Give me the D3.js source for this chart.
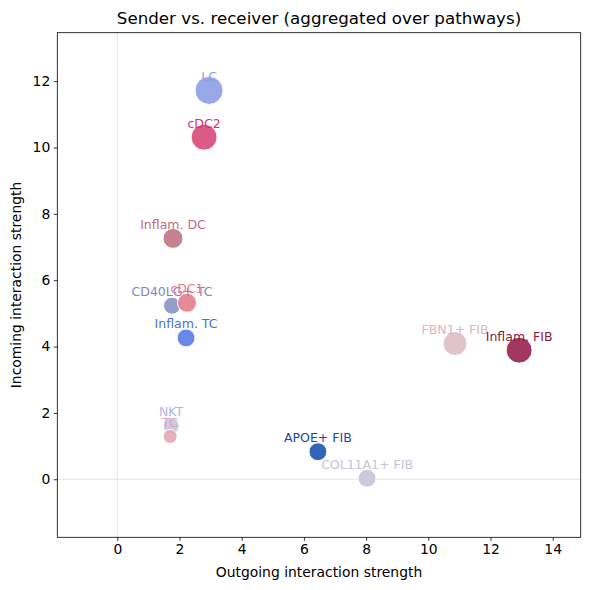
<!DOCTYPE html>
<html><head><meta charset="utf-8">
<script src="https://cdn.jsdelivr.net/npm/d3@7"></script>
<style>body{margin:0;background:#fff}svg{display:block;font-family:"DejaVu Sans",sans-serif}</style>
</head><body><svg id="c" width="590" height="590"></svg>
<script>
const cellTypes = ["LC","cDC2","Inflam. DC","CD40LG+ TC","cDC1","Inflam. TC","NKT","TC","APOE+ FIB","COL11A1+ FIB","FBN1+ FIB","Inflam. FIB"];
const outgoing = [2.95,2.79,1.79,1.76,2.24,2.21,1.73,1.70,6.45,8.03,10.86,12.92];
const incoming = [11.72,10.31,7.26,5.23,5.32,4.26,1.61,1.29,0.83,0.03,4.09,3.89];
const cellCounts = [1000,860,510,370,460,410,330,250,410,410,735,860];
const pointColors = ["#8e9fe6","#d94d7b","#c07888","#8c95c4","#e3808f","#5c7fe6","#c4c6e6","#e4aab6","#2357b4","#c4c7da","#dcbfc5","#9a2656"];
const labelColors = ["#8e9fe6","#d6336b","#c06a80","#7f86bb","#e57a8e","#4a6ee0","#b0b4de","#e4a6b2","#1a48a6","#c2c4d8","#dbb6be","#86163f"];
const xTicks = [0,2,4,6,8,10,12,14];
const yTicks = [0,2,4,6,8,10,12];
const titleText = "Sender vs. receiver (aggregated over pathways)";
const xLabel = "Outgoing interaction strength";
const yLabel = "Incoming interaction strength";

const svg = d3.select("#c");
const m = {l:57.3, t:32.7, r:9.3, b:52.7};
const W = 590, H = 590;
const x = d3.scaleLinear().domain([-1.93,14.9]).range([m.l, W-m.r]);
const y = d3.scaleLinear().domain([-1.75,13.46]).range([H-m.b, m.t]);
const rs = d3.scaleSqrt().domain([0, d3.max(cellCounts)]).range([0, 14]);

// reference lines
svg.append("line").attr("x1",x(0)).attr("x2",x(0)).attr("y1",m.t).attr("y2",H-m.b).attr("stroke","#dcdcdc").attr("stroke-width",0.8);
svg.append("line").attr("x1",m.l).attr("x2",W-m.r).attr("y1",y(0)).attr("y2",y(0)).attr("stroke","#dcdcdc").attr("stroke-width",0.8);

const data = cellTypes.map((c,i)=>({c, x:outgoing[i], y:incoming[i], n:cellCounts[i], pc:pointColors[i], lc:labelColors[i]}));

svg.append("g").selectAll("circle").data(data).join("circle")
  .attr("cx",d=>x(d.x)).attr("cy",d=>y(d.y)).attr("r",d=>rs(d.n))
  .attr("fill",d=>d.pc).attr("fill-opacity",0.92).attr("stroke","#fff").attr("stroke-width",1);

svg.append("g").selectAll("text").data(data).join("text")
  .attr("x",d=>x(d.x)).attr("y",d=>y(d.y)-14).attr("dy","0.35em")
  .attr("text-anchor","middle").attr("font-size","12.5px").attr("fill",d=>d.lc)
  .text(d=>d.c);

// axes
const gx = svg.append("g").attr("transform",`translate(0,${H-m.b})`)
  .call(d3.axisBottom(x).tickValues(xTicks).tickSize(3.5).tickPadding(3.5).tickFormat(d3.format("d")));
const gy = svg.append("g").attr("transform",`translate(${m.l},0)`)
  .call(d3.axisLeft(y).tickValues(yTicks).tickSize(3.5).tickPadding(3.5).tickFormat(d3.format("d")));
[gx,gy].forEach(g=>{g.select(".domain").remove();g.selectAll("text").attr("font-size","13.9px").attr("fill","#000").attr("font-family","DejaVu Sans");g.selectAll("line").attr("stroke","#000").attr("stroke-width",0.8);});

svg.append("rect").attr("x",m.l).attr("y",m.t).attr("width",W-m.l-m.r).attr("height",H-m.t-m.b)
  .attr("fill","none").attr("stroke","#000").attr("stroke-width",0.8);

svg.append("text").attr("x",(m.l+W-m.r)/2).attr("y",24).attr("text-anchor","middle").attr("font-size","16.7px").text(titleText);
svg.append("text").attr("x",(m.l+W-m.r)/2).attr("y",577).attr("text-anchor","middle").attr("font-size","13.9px").text(xLabel);
svg.append("text").attr("transform",`translate(21,${(m.t+H-m.b)/2}) rotate(-90)`).attr("text-anchor","middle").attr("font-size","13.9px").text(yLabel);
</script></body></html>
